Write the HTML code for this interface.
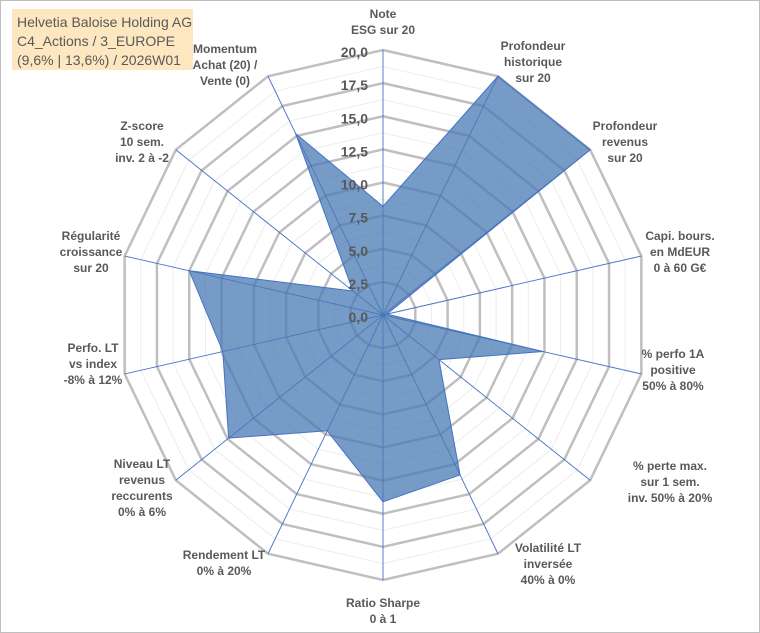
<!DOCTYPE html>
<html><head><meta charset="utf-8"><style>
html,body{margin:0;padding:0;background:#fff}
svg{display:block;font-family:"Liberation Sans",Arial,sans-serif}
.lbl{font-size:12px;font-weight:bold;fill:#595959;text-anchor:middle}
.tick{font-size:14px;font-weight:bold;fill:#595959;text-anchor:end}
</style></head><body>
<svg id="c" width="760" height="633" viewBox="0 0 760 633">
<rect x="0.5" y="0.5" width="759" height="632" fill="#fff" stroke="#bfbfbf"/>
<g id="grid"></g>
<g id="axes"></g>
<g id="series"></g>
<g id="ticks"></g>
<g id="labels"></g>
<rect x="12" y="9" width="181" height="61" fill="#fde7c0"/>
<text x="17" y="27" font-size="14" fill="#595959">Helvetia Baloise Holding AG</text>
<text x="17" y="46" font-size="14" fill="#595959">C4_Actions / 3_EUROPE</text>
<text x="17" y="65" font-size="14" fill="#595959">(9,6% | 13,6%) / 2026W01</text>
</svg>
<script>
const categories=[["Note","ESG sur 20"],["Profondeur","historique","sur 20"],["Profondeur","revenus","sur 20"],["Capi. bours.","en MdEUR","0 à 60 G€"],["% perfo 1A","positive","50% à 80%"],["% perte max.","sur 1 sem.","inv. 50% à 20%"],["Volatilité LT","inversée","40% à 0%"],["Ratio Sharpe","0 à 1"],["Rendement LT","0% à 20%"],["Niveau LT","revenus","reccurents","0% à 6%"],["Perfo. LT","vs index","-8% à 12%"],["Régularité","croissance","sur 20"],["Z-score","10 sem.","inv. 2 à -2"],["Momentum","Achat (20) /","Vente (0)"]];
const values=[8.2,20,20,0.3,12.4,5.4,13.4,14.1,9.7,14.9,12.4,15.0,2.9,15.2];
const tickLabels=["0,0","2,5","5,0","7,5","10,0","12,5","15,0","17,5","20,0"];
const tickValues=[0,2.5,5,7.5,10,12.5,15,17.5,20];
const labelPos=[[383,18],[533,50],[625,130],[680,240],[673,358],[670,470],[548,552],[383,607],[224,559],[142,468],[93,352],[91,240],[142,130],[225,53]];
const cx=383,cy=315,R=265,maxV=20,N=categories.length;
const NS="http://www.w3.org/2000/svg";
function ang(i){return i*2*Math.PI/N;}
function px(i,v){return cx+Math.sin(ang(i))*v/maxV*R;}
function py(i,v){return cy-Math.cos(ang(i))*v/maxV*R;}
function mk(t,a,p){const e=document.createElementNS(NS,t);for(const k in a)e.setAttribute(k,a[k]);p.appendChild(e);return e;}
const grid=document.getElementById('grid');
for(let v=1.25;v<=20.001;v+=1.25){
  const major=Math.abs(v/2.5-Math.round(v/2.5))<1e-6;
  const pts=[];for(let i=0;i<N;i++)pts.push(px(i,v)+","+py(i,v));
  const g=mk('polygon',{points:pts.join(' '),fill:'none',stroke:major?'#bfbfbf':'#ececec','stroke-width':major?2.5:1},grid);
  
  
}
const axes=document.getElementById('axes');
for(let i=0;i<N;i++){
  const l=mk('line',{x1:cx,y1:cy,x2:px(i,maxV),y2:py(i,maxV),stroke:'#4472c4','stroke-width':0.9},axes);
  
  
}
const ser=document.getElementById('series');
const sp=values.map((v,i)=>px(i,v)+","+py(i,v)).join(' ');
const poly=mk('polygon',{points:sp,fill:'#4a7ab4','fill-opacity':0.75,stroke:'#4472c4','stroke-width':1},ser);


const ticks=document.getElementById('ticks');
tickValues.forEach((v,k)=>{
  const t=mk('text',{x:cx-15,y:cy-v/maxV*R+7,class:'tick'},ticks);
  t.textContent=tickLabels[k];
  
  
});
const labels=document.getElementById('labels');
categories.forEach((lines,i)=>{
  const [x,y]=labelPos[i];
  const t=mk('text',{x:x,y:y,class:'lbl'},labels);
  
  
  lines.forEach((s,j)=>{const ts=mk('tspan',{x:x,dy:j?16:0},t);ts.textContent=s;});
});
</script>
</body></html>
